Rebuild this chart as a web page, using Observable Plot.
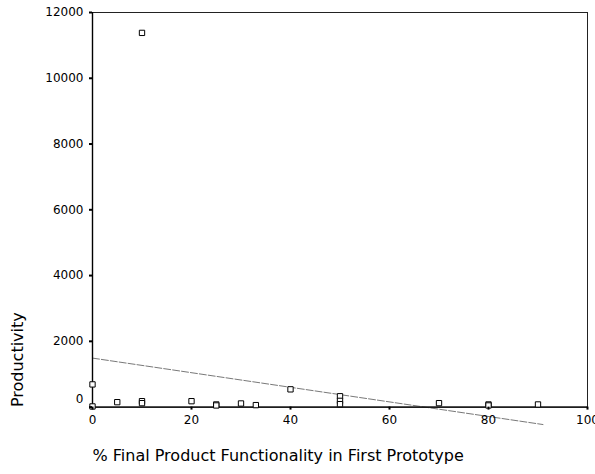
<!DOCTYPE html>
<html>
<head>
<meta charset="utf-8">
<script src="https://cdn.jsdelivr.net/npm/d3@7"></script>
<script src="https://cdn.jsdelivr.net/npm/@observablehq/plot@0.6"></script>
<style>
  html, body { margin: 0; padding: 0; background: #fff; }
</style>
</head>
<body>
<div id="chart"></div>
<script>
// Share of final functionality present in the first prototype vs. productivity
const functionality = [0, 0, 5, 10, 10, 10, 20, 25, 25, 30, 33, 40, 50, 50, 50, 70, 80, 80, 90];
const productivity  = [690, 20, 150, 11380, 180, 120, 180, 80, 50, 110, 60, 540, 330, 190, 90, 120, 80, 50, 80];

// Least-squares fit line, end points
const fitX = [0, 91];
const fitY = [1490, -530];

const xTicks = [0, 20, 40, 60, 80, 100];
const yTicks = [0, 2000, 4000, 6000, 8000, 10000, 12000];
const xTitle = "% Final Product Functionality in First Prototype";
const yTitle = "Productivity";

const points = functionality.map((x, i) => ({x, y: productivity[i]}));
const fit = fitX.map((x, i) => ({x, y: fitY[i]}));
const plain = d3.format("d");

const chart = Plot.plot({
  width: 595,
  height: 474,
  marginLeft: 92,
  marginRight: 8,
  marginTop: 12,
  marginBottom: 67.4,
  style: {fontFamily: "DejaVu Sans", fontSize: "12px", color: "#000", background: "#fff"},
  x: {domain: [0, 100], label: null},
  y: {domain: [0, 12000], label: null},
  marks: [
    Plot.frame({stroke: "#222", strokeWidth: 1}),
    Plot.line(fit, {x: "x", y: "y", stroke: "#555", strokeWidth: 0.8, strokeDasharray: "7,2"}),
    Plot.ruleY([0], {stroke: "#000", strokeWidth: 1.4}),
    Plot.ruleX([0], {stroke: "#000", strokeWidth: 1.4}),
    Plot.dot(points, {x: "x", y: "y", symbol: "square", r: 3, stroke: "#000", fill: "#fff", strokeWidth: 1}),
    Plot.axisX({ticks: xTicks, tickFormat: plain, tickSize: 3, tickPadding: 5, strokeWidth: 2, label: null}),
    Plot.axisY({ticks: yTicks, tickSize: 3, strokeWidth: 2, text: null, label: null}),
    Plot.axisY({ticks: yTicks.filter(t => t !== 0), tickFormat: plain, tickSize: 0, tickPadding: 9, label: null}),
    Plot.axisY({ticks: [0], tickFormat: plain, tickSize: 0, tickPadding: 9, dy: -8, label: null}),
    Plot.text([xTitle], {text: d => d, frameAnchor: "bottom-left", textAnchor: "start", dy: 54, fontSize: 16}),
    Plot.text([yTitle], {text: d => d, frameAnchor: "bottom-left", textAnchor: "start", rotate: -90, dx: -70, fontSize: 16})
  ]
});

document.getElementById("chart").appendChild(chart);
</script>
</body>
</html>
